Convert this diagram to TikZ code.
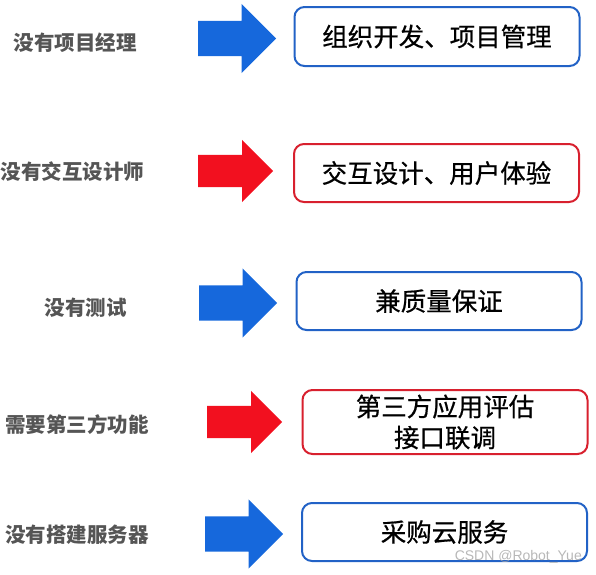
\documentclass[tikz,border=0pt]{standalone}
\usepackage{fontspec}
\setmainfont{Noto Sans CJK SC}
\newfontfamily\boxfont[FakeBold=0.6]{Noto Sans CJK SC}
\newfontfamily\markfont{Liberation Sans}
\usetikzlibrary{shapes.arrows}

\definecolor{arrowblue}{HTML}{1668DC}
\definecolor{arrowred}{HTML}{F2101F}
\definecolor{boxblue}{HTML}{2262C6}
\definecolor{boxred}{HTML}{D8202E}
\definecolor{labelgray}{HTML}{555555}

\begin{document}
\begin{tikzpicture}[x=1pt, y=-1pt,
    lack/.style={font=\fontsize{20.5}{24}\selectfont\bfseries, text=labelgray, inner sep=0pt},
    bluearrow/.style={single arrow, anchor=tail, fill=arrowblue, inner xsep=0pt, inner ysep=17.5pt, single arrow head extend=17pt, minimum height=78pt, minimum width=69pt},
    redarrow/.style={single arrow, anchor=tail, fill=arrowred, inner xsep=0pt, inner ysep=16pt, single arrow head extend=15pt, minimum height=75pt, minimum width=62pt},
    answer/.style={draw, line width=2pt, rounded corners=10pt, minimum width=285pt, minimum height=58pt, align=center, font=\boxfont\fontsize{25.5}{31}\selectfont, inner sep=0pt},
    bluebox/.style={answer, draw=boxblue},
    redbox/.style={answer, draw=boxred}]
    \useasboundingbox (0,0) rectangle (596,574);

    % 左側のラベルを描画
    \node[lack] (L1) at (75, 43) {没有项目经理};
    \node[lack] (L2) at (72.5, 172) {没有交互设计师};
    \node[lack] (L3) at (85.5, 308) {没有测试};
    \node[lack] (L4) at (77, 425) {需要第三方功能};
    \node[lack] (L5) at (77, 535) {没有搭建服务器};

    % 矢印を描画
    \node[bluearrow] (A1) at (198, 38.5) {};
    \node[redarrow] (A2) at (198, 171) {};
    \node[bluearrow] (A3) at (199, 303) {};
    \node[redarrow] (A4) at (207, 422) {};
    \node[bluearrow] (A5) at (205, 534) {};

    % 右側のボックスを描画
    \node[bluebox, minimum height=59pt] (B1) at (437, 36.5) {组织开发、项目管理};
    \node[redbox] (B2) at (436.5, 173) {交互设计、用户体验};
    \node[bluebox] (B3) at (439, 301) {兼质量保证};
    \node[redbox, minimum height=64pt] (B4) at (445, 422) {第三方应用评估\\接口联调};
    \node[bluebox] (B5) at (444.5, 532) {采购云服务};

    % 透かし
    \node[anchor=east, font=\markfont\fontsize{14}{16}\selectfont, text=gray!70, opacity=0.8, inner sep=0pt] (W) at (582, 557) {CSDN @Robot\_Yue};
\end{tikzpicture}
\end{document}
